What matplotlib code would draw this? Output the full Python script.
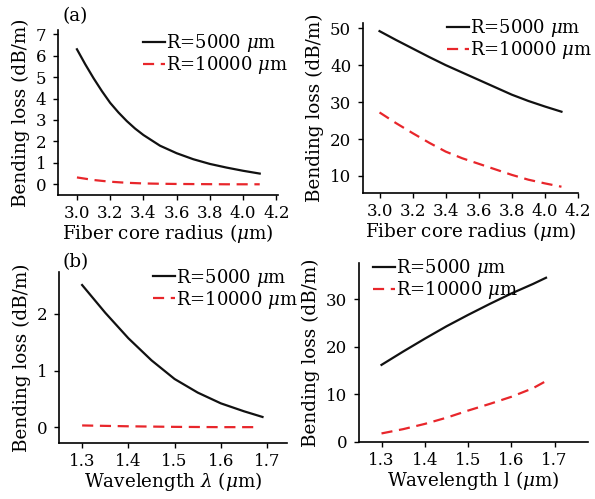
import matplotlib
matplotlib.use("Agg")
import matplotlib.pyplot as plt

plt.rcParams['font.family'] = ['DejaVu Serif']
plt.rcParams['mathtext.fontset'] = 'dejavuserif'

# Panel (a) left: bending loss vs fiber core radius
radius_a = [3.0, 3.05, 3.1, 3.15, 3.2, 3.25, 3.3, 3.35, 3.4, 3.5, 3.6, 3.7, 3.8, 3.9, 4.0, 4.1]
a1_r5000 = [6.3, 5.6, 4.95, 4.35, 3.8, 3.35, 2.95, 2.6, 2.3, 1.8, 1.45, 1.17, 0.95, 0.78, 0.63, 0.5]
radius_a_red = [3.0, 3.1, 3.2, 3.3, 3.4, 3.5, 3.6, 3.7, 3.8, 3.9, 4.0, 4.1]
a1_r10000 = [0.32, 0.2, 0.12, 0.07, 0.04, 0.025, 0.015, 0.01, 0.005, 0.0, 0.0, 0.0]

# Panel (a) right
radius_b = [3.0, 3.1, 3.2, 3.3, 3.4, 3.5, 3.6, 3.7, 3.8, 3.9, 4.0, 4.1]
a2_r5000 = [49.2, 46.8, 44.5, 42.2, 40.0, 38.0, 36.0, 34.0, 32.0, 30.3, 28.8, 27.4]
a2_r10000 = [27.2, 24.3, 21.6, 19.0, 16.6, 14.8, 13.3, 11.8, 10.3, 9.0, 8.0, 7.1]

# Panel (b) left: bending loss vs wavelength
wl_left = [1.3, 1.35, 1.4, 1.45, 1.5, 1.55, 1.6, 1.65, 1.69]
b1_r5000 = [2.51, 2.02, 1.57, 1.18, 0.85, 0.61, 0.42, 0.28, 0.18]
wl_left_red = [1.3, 1.4, 1.5, 1.6, 1.67]
b1_r10000 = [0.03, 0.015, 0.005, 0.0, 0.0]

# Panel (b) right
wl_right = [1.3, 1.35, 1.4, 1.45, 1.5, 1.55, 1.6, 1.65, 1.68]
b2_r5000 = [16.2, 19.0, 21.7, 24.3, 26.7, 29.0, 31.2, 33.2, 34.5]
b2_r10000 = [1.8, 2.7, 3.8, 5.1, 6.6, 8.0, 9.5, 11.3, 12.8]

legend_labels = [r"R=5000 $\mu$m", r"R=10000 $\mu$m"]
ylabel = "Bending loss (dB/m)"
xlabel_radius = r"Fiber core radius ($\mu$m)"
xlabel_wl_left = r"Wavelength $\lambda$ ($\mu$m)"
xlabel_wl_right = r"Wavelength l ($\mu$m)"

W, H = 595, 499
fig = plt.figure(figsize=(W / 100, H / 100), dpi=100)

def add_ax(l, r, t, b):
    return fig.add_axes([l / W, (H - b) / H, (r - l) / W, (b - t) / H])

black = '#111111'
red = '#e8262b'
TFS = 12
LFS = 13.2
GFS = 13

def style(ax, xlim, ylim, xticks, yticks, xt_labels, xlabel):
    ax.set_xlim(*xlim)
    ax.set_ylim(*ylim)
    ax.set_xticks(xticks)
    ax.set_xticklabels(xt_labels)
    ax.set_yticks(yticks)
    for s in ['top', 'right']:
        ax.spines[s].set_visible(False)
    for s in ['left', 'bottom']:
        ax.spines[s].set_linewidth(1.2)
    ax.tick_params(length=3.5, width=1, direction='out', labelsize=TFS)
    ax.tick_params(axis='y', pad=5)
    ax.tick_params(axis='x', pad=4)
    ax.set_xlabel(xlabel, fontsize=LFS, labelpad=0)
    ax.set_ylabel(ylabel, fontsize=LFS, labelpad=4)

def add_legend(ax, anchor):
    ax.legend(legend_labels, loc='upper left', frameon=False, fontsize=GFS,
              handlelength=1.2, handletextpad=0.1, borderaxespad=0.0,
              borderpad=0.0, labelspacing=0.0, bbox_to_anchor=anchor)

def plot_pair(ax, x1, y1, x2, y2):
    ax.plot(x1, y1, color=black, lw=1.6)
    ax.plot(x2, y2, color=red, lw=1.6, dashes=(5, 3))

rticks = [3.0, 3.2, 3.4, 3.6, 3.8, 4.0, 4.2]
rtl = ["3.0", "3.2", "3.4", "3.6", "3.8", "4.0", "4.2"]
wticks = [1.3, 1.4, 1.5, 1.6, 1.7]
wtl = ["1.3", "1.4", "1.5", "1.6", "1.7"]

ax1 = add_ax(58, 278, 30, 195)
plot_pair(ax1, radius_a, a1_r5000, radius_a_red, a1_r10000)
style(ax1, (2.886, 4.21), (-0.5, 7.2), rticks, range(0, 8), rtl, xlabel_radius)
add_legend(ax1, (0.386, 0.985))

ax2 = add_ax(363, 578, 23, 193)
plot_pair(ax2, radius_b, a2_r5000, radius_b, a2_r10000)
style(ax2, (2.9, 4.2), (5.4, 51.4), rticks, [10, 20, 30, 40, 50], rtl, xlabel_radius)
add_legend(ax2, (0.39, 1.036))

ax3 = add_ax(59, 287, 272, 443)
plot_pair(ax3, wl_left, b1_r5000, wl_left_red, b1_r10000)
style(ax3, (1.25, 1.743), (-0.28, 2.74), wticks, [0, 1, 2], wtl, xlabel_wl_left)
add_legend(ax3, (0.412, 1.032))

ax4 = add_ax(359, 588, 263, 442)
plot_pair(ax4, wl_right, b2_r5000, wl_right, b2_r10000)
style(ax4, (1.248, 1.777), (0, 37.6), wticks, [0, 10, 20, 30], wtl, xlabel_wl_right)
add_legend(ax4, (0.061, 1.034))

fig.text(62 / W, 1 - 16 / H, "(a)", fontsize=LFS, va='center', ha='left')
fig.text(62 / W, 1 - 262 / H, "(b)", fontsize=LFS, va='center', ha='left')

fig.savefig("out.png", dpi=100)
